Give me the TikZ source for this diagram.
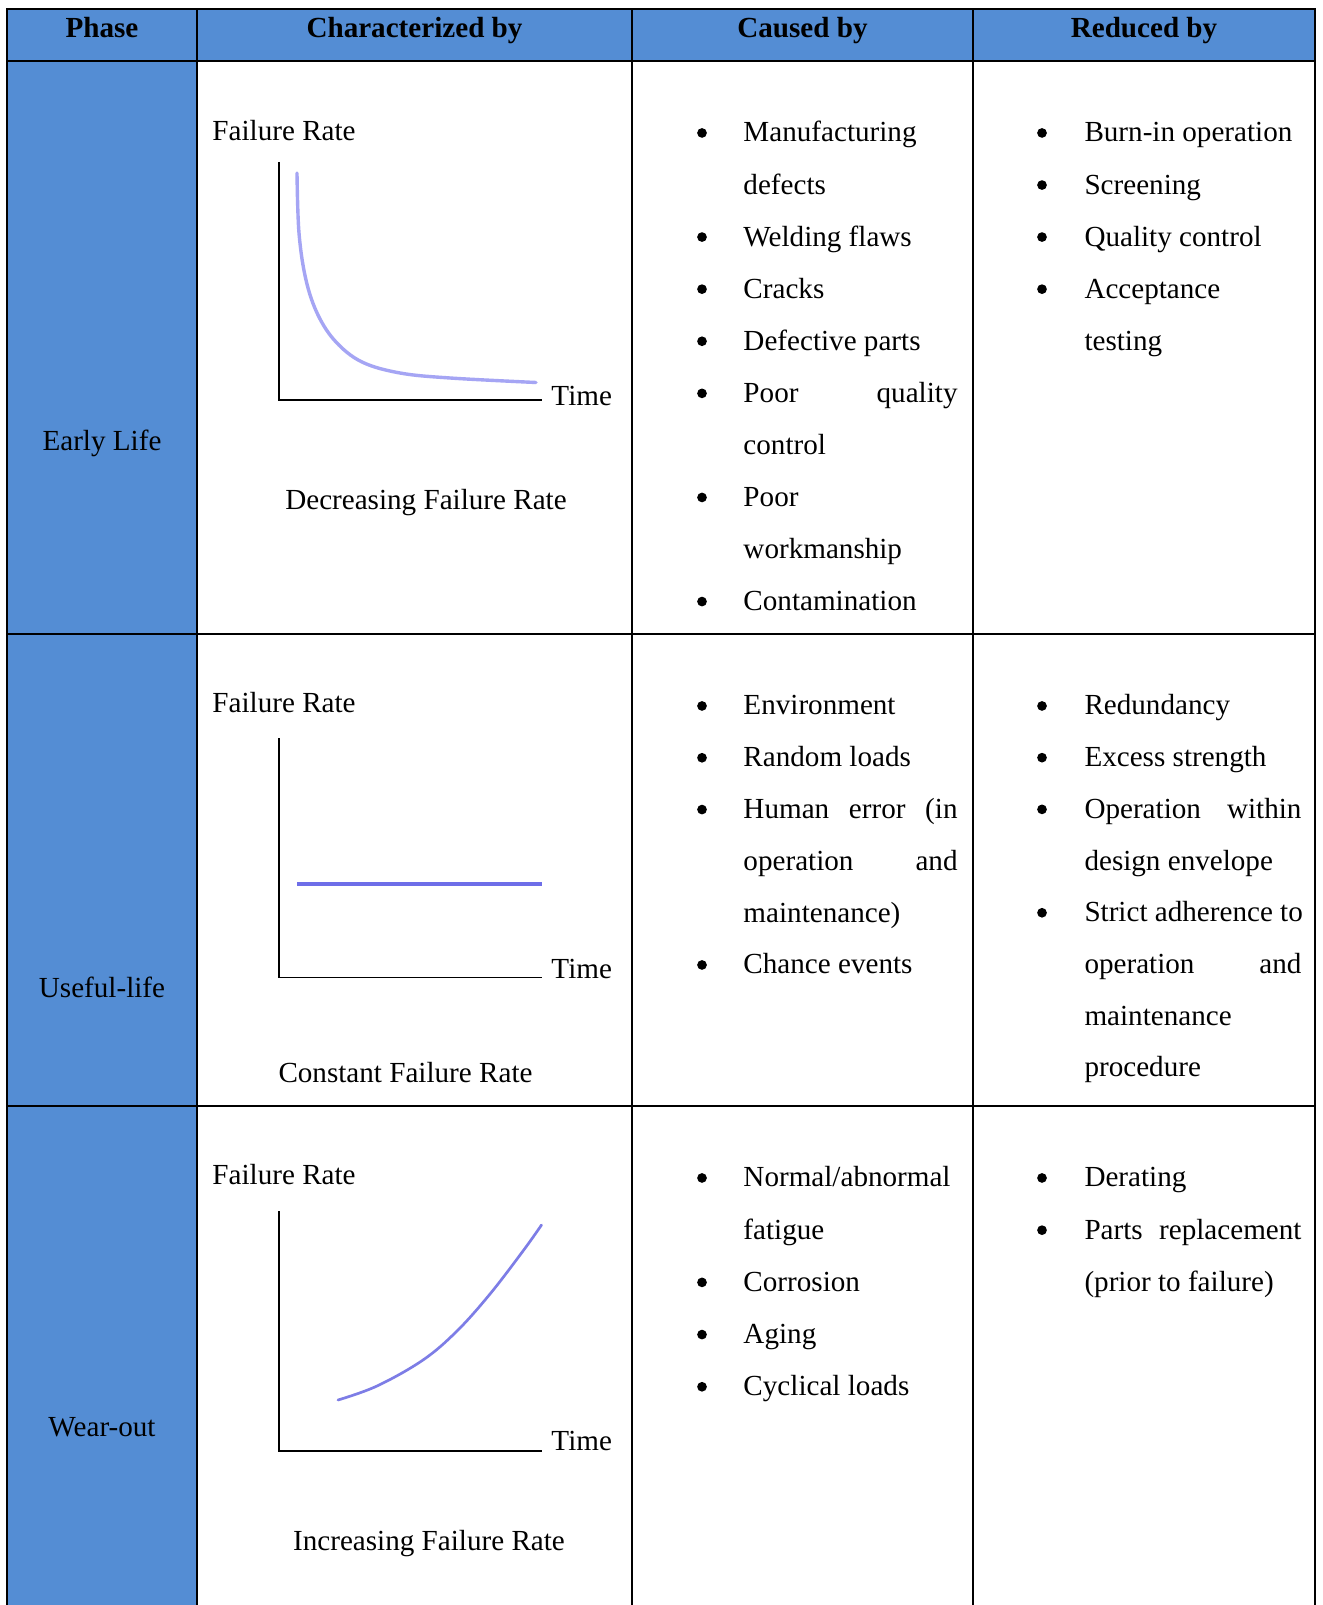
\documentclass[tikz,border=0pt]{standalone}
\usepackage{fontspec}
\setmainfont{Liberation Serif}
\definecolor{phaseblue}{HTML}{548DD4}
\definecolor{curveA}{RGB}{165,165,244}
\definecolor{curveB}{RGB}{110,110,232}
\definecolor{curveC}{RGB}{125,125,230}
\newcommand{\jc}[1]{\makebox[88.2pt][s]{#1}}
\newcommand{\jr}[1]{\makebox[89.4pt][s]{#1}}
\begin{document}
\begin{tikzpicture}[x=0.412pt,y=-0.412pt,
  txt/.style={font=\fontsize{12}{14}\selectfont, inner sep=0pt, anchor=base west, yshift=-0.8pt},
  ctr/.style={font=\fontsize{12}{14}\selectfont, inner sep=0pt, anchor=base, yshift=-0.8pt},
  hdr/.style={font=\fontsize{12}{14}\selectfont\bfseries, inner sep=0pt, anchor=base, yshift=-0.8pt},
  bul/.style={circle, fill=black, inner sep=0pt, minimum size=4pt, yshift=2.9pt},
  gridline/.style={line width=0.82pt, black},
  axisline/.style={line width=0.6pt, black}]
\useasboundingbox (0,0) rectangle (1322,1605);
\fill[white] (0,0) rectangle (1322,1605);
% blue areas
\fill[phaseblue] (7,9) rectangle (1315,61);
\fill[phaseblue] (7,61) rectangle (197,1605);
% grid
\draw[gridline] (7,1605) -- (7,9) -- (1315,9) -- (1315,1605);
\draw[gridline] (197,9) -- (197,1605);
\draw[gridline] (632,9) -- (632,1605);
\draw[gridline] (973,9) -- (973,1605);
\draw[gridline] (7,61) -- (1315,61);
\draw[gridline] (7,634) -- (1315,634);
\draw[gridline] (7,1106) -- (1315,1106);
% headers
\node[hdr] (hPhase) at (102,36) {Phase};
\node[hdr] (hChar) at (414.5,36) {Characterized by};
\node[hdr] (hCaused) at (802.5,36) {Caused by};
\node[hdr] (hReduced) at (1144,36) {Reduced by};
% phase labels
\node[ctr] (pEarly) at (102,449) {Early Life};
\node[ctr] (pUseful) at (102,996) {Useful-life};
\node[ctr] (pWear) at (102,1435) {Wear-out};

% ---------- Row 1 graph ----------
\node[txt] (fr1) at (212,139) {Failure Rate};
\coordinate (o1) at (279,400);
\coordinate (yt1) at (279,162);
\coordinate (xe1) at (542,400);
\draw[axisline] (yt1) -- (o1) -- (xe1);
\node[txt] (t1) at (551,404) {Time};
\draw[curveA, line width=1.4pt, line cap=round] plot[smooth, tension=0.6] coordinates
  {(297,173) (299,233) (306,280) (318,315) (336,342) (362,362) (400,373) (450,378) (536,382.5)};
\node[ctr] (d1) at (426,508) {Decreasing Failure Rate};

% ---------- Row 2 graph ----------
\node[txt] (fr2) at (212,711) {Failure Rate};
\coordinate (o2) at (279,977.5);
\coordinate (yt2) at (279,738);
\coordinate (xe2) at (542,977.5);
\draw[axisline] (yt2) -- (o2) -- (xe2);
\node[txt] (t2) at (551,977) {Time};
\coordinate (c2a) at (297,884);
\coordinate (c2b) at (542,884);
\draw[curveB, line width=1.6pt] (c2a) -- (c2b);
\node[ctr] (d2) at (405.5,1081) {Constant Failure Rate};

% ---------- Row 3 graph ----------
\node[txt] (fr3) at (212,1183) {Failure Rate};
\coordinate (o3) at (279,1451);
\coordinate (yt3) at (279,1211);
\coordinate (xe3) at (542,1451);
\draw[axisline] (yt3) -- (o3) -- (xe3);
\node[txt] (t3) at (551,1449) {Time};
\draw[curveC, line width=1.1pt, line cap=round] plot[smooth, tension=0.6] coordinates
  {(338,1400) (377,1386) (423,1360) (457,1331) (490,1294) (523,1251) (541.5,1225)};
\node[ctr] (d3) at (429,1549) {Increasing Failure Rate};

% ---------- Caused by, row 1 ----------
\node[bul] (cb10) at (702,140) {};   \node[txt] (c10) at (743,140) {Manufacturing};
                                     \node[txt] (c11) at (743,192.1) {defects};
\node[bul] (cb12) at (702,244.1) {}; \node[txt] (c12) at (743,244.1) {Welding flaws};
\node[bul] (cb13) at (702,296.2) {}; \node[txt] (c13) at (743,296.2) {Cracks};
\node[bul] (cb14) at (702,348.3) {}; \node[txt] (c14) at (743,348.3) {Defective parts};
\node[bul] (cb15) at (702,400.4) {}; \node[txt] (c15) at (743,400.4) {\jc{Poor quality}};
                                     \node[txt] (c16) at (743,452.4) {control};
\node[bul] (cb17) at (702,504.5) {}; \node[txt] (c17) at (743,504.5) {Poor};
                                     \node[txt] (c18) at (743,556.6) {workmanship};
\node[bul] (cb19) at (702,608.6) {}; \node[txt] (c19) at (743,608.6) {Contamination};

% ---------- Reduced by, row 1 ----------
\node[bul] (rb10) at (1042,140) {};   \node[txt] (r10) at (1084,140) {Burn-in operation};
\node[bul] (rb11) at (1042,192.1) {}; \node[txt] (r11) at (1084,192.1) {Screening};
\node[bul] (rb12) at (1042,244.1) {}; \node[txt] (r12) at (1084,244.1) {Quality control};
\node[bul] (rb13) at (1042,296.2) {}; \node[txt] (r13) at (1084,296.2) {Acceptance};
                                      \node[txt] (r14) at (1084,348.3) {testing};

% ---------- Caused by, row 2 ----------
\node[bul] (cb20) at (702,713) {};   \node[txt] (c20) at (743,713) {Environment};
\node[bul] (cb21) at (702,764.8) {}; \node[txt] (c21) at (743,764.8) {Random loads};
\node[bul] (cb22) at (702,816.6) {}; \node[txt] (c22) at (743,816.6) {\jc{Human error (in}};
                                     \node[txt] (c23) at (743,868.4) {\jc{operation and}};
                                     \node[txt] (c24) at (743,920.2) {maintenance)};
\node[bul] (cb25) at (702,972) {};   \node[txt] (c25) at (743,972) {Chance events};

% ---------- Reduced by, row 2 ----------
\node[bul] (rb20) at (1042,713) {};    \node[txt] (r20) at (1084,713) {Redundancy};
\node[bul] (rb21) at (1042,764.7) {};  \node[txt] (r21) at (1084,764.7) {Excess strength};
\node[bul] (rb22) at (1042,816.4) {};  \node[txt] (r22) at (1084,816.4) {\jr{Operation within}};
                                       \node[txt] (r23) at (1084,868.1) {design envelope};
\node[bul] (rb24) at (1042,919.8) {};  \node[txt] (r24) at (1084,919.8) {Strict adherence to};
                                       \node[txt] (r25) at (1084,971.5) {\jr{operation and}};
                                       \node[txt] (r26) at (1084,1023.2) {maintenance};
                                       \node[txt] (r27) at (1084,1074.9) {procedure};

% ---------- Caused by, row 3 ----------
\node[bul] (cb30) at (702,1185) {};    \node[txt] (c30) at (743,1185) {Normal/abnormal};
                                       \node[txt] (c31) at (743,1237.2) {fatigue};
\node[bul] (cb32) at (702,1289.4) {};  \node[txt] (c32) at (743,1289.4) {Corrosion};
\node[bul] (cb33) at (702,1341.6) {};  \node[txt] (c33) at (743,1341.6) {Aging};
\node[bul] (cb34) at (702,1393.8) {};  \node[txt] (c34) at (743,1393.8) {Cyclical loads};

% ---------- Reduced by, row 3 ----------
\node[bul] (rb30) at (1042,1185) {};   \node[txt] (r30) at (1084,1185) {Derating};
\node[bul] (rb31) at (1042,1237.2) {}; \node[txt] (r31) at (1084,1237.2) {\jr{Parts replacement}};
                                       \node[txt] (r32) at (1084,1289.4) {(prior to failure)};
\end{tikzpicture}
\end{document}
